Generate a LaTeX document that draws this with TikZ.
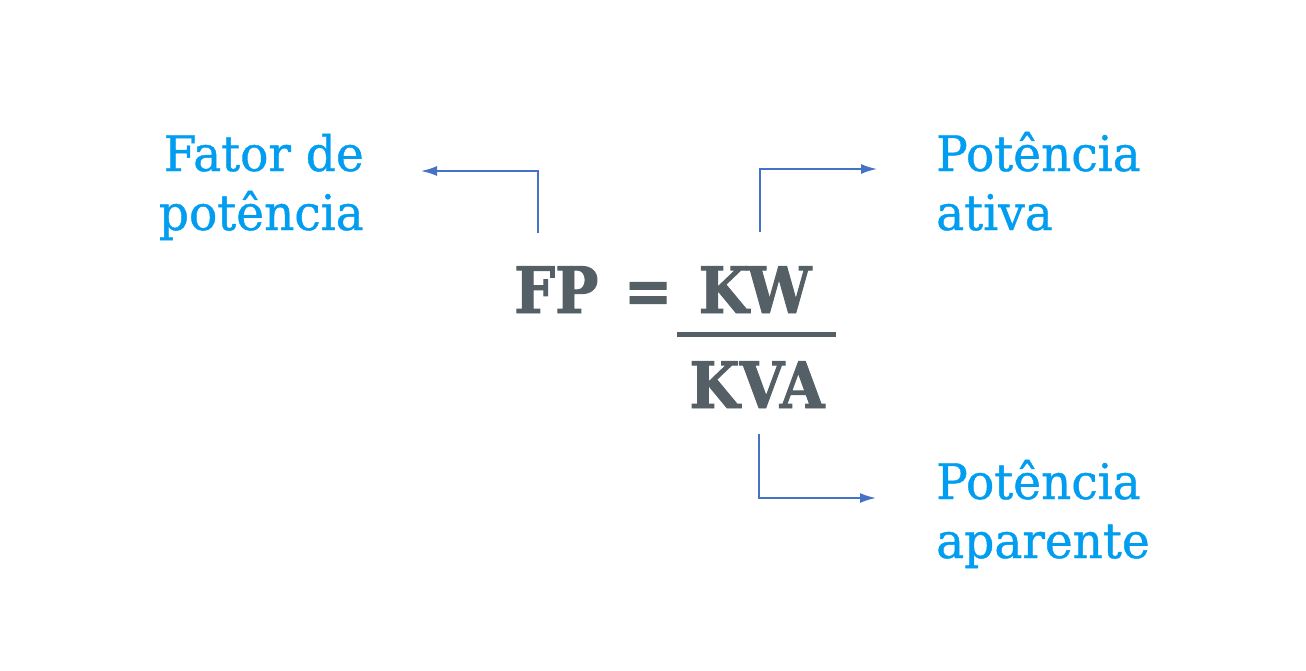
\documentclass[tikz,border=0pt]{standalone}
\usepackage{fontspec}
\setmainfont{DejaVu Serif}
\newfontfamily\lblfont[FakeStretch=0.96,FakeBold=0.8]{DejaVu Serif}
\newfontfamily\frmfont[FakeStretch=0.9,FakeBold=1.5]{DejaVu Serif}
\usetikzlibrary{arrows.meta}
\definecolor{lblblue}{RGB}{0,157,240}
\definecolor{frmgray}{RGB}{84,96,101}
\definecolor{arrblue}{RGB}{68,114,196}
\tikzset{
  lbl/.style={text=lblblue, inner sep=0pt, font=\lblfont\fontsize{49}{59}\selectfont},
  frm/.style={text=frmgray, inner sep=0pt, font=\frmfont\bfseries\fontsize{64}{70}\selectfont},
  elbow/.style={draw=arrblue, line width=1.8pt, -{Latex[length=16pt,width=10pt]}}
}
\begin{document}
\begin{tikzpicture}[x=1pt, y=-1pt]
\useasboundingbox (0,0) rectangle (1306,670);
% the formula
\node [frm, anchor=base west] (fp) at (514,313) {FP};
\node [frm, anchor=base] (eq) at (648,313) {=};
\node [frm, anchor=base] (kw) at (755,313) {KW};
\node [frm, anchor=base] (kva) at (757,408) {KVA};
\draw [frmgray, line width=5pt] (677,334.5) -- (836,334.5);
% the labels (base is the last line)
\node [lbl, anchor=base east, align=right] (fator) at (364,230) {Fator de\\potência};
\node [lbl, anchor=base west, align=left] (ativa) at (936,230) {Potência\\ativa};
\node [lbl, anchor=base west, align=left] (aparente) at (936,558) {Potência\\aparente};
% arrow ends
\coordinate (fpfoot) at (538,233);
\coordinate (fatortip) at (421,171);
\coordinate (kwfoot) at (760,232);
\coordinate (ativatip) at (877,169);
\coordinate (kvafoot) at (759,434);
\coordinate (aparentetip) at (876,498);
\draw [elbow] (fpfoot) |- (fatortip);
\draw [elbow] (kwfoot) |- (ativatip);
\draw [elbow] (kvafoot) |- (aparentetip);
\end{tikzpicture}
\end{document}
